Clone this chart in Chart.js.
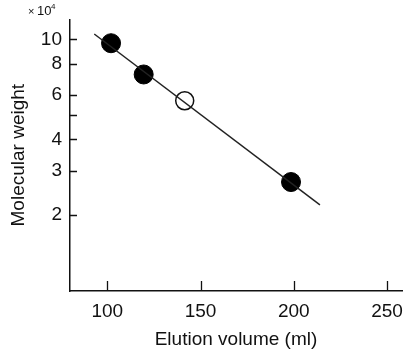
<!DOCTYPE html>
<html>
<head>
<meta charset="utf-8">
<script src="https://cdn.jsdelivr.net/npm/chart.js@4"></script>
<style>
  html, body { margin: 0; padding: 0; background: #fff; }
  #wrap { width: 413px; height: 358px; }
</style>
</head>
<body>
<div id="wrap"><canvas id="chart"></canvas></div>
<script>
// values (molecular weight in units of 10^4)
const filledX = [102, 119.5, 198.5];
const filledY = [9.65, 7.25, 2.71];
const openX = [141.5];
const openY = [5.7];
const fitX = [93, 214];
const fitY = [10.5, 2.2];
const xTicks = [100, 150, 200, 250];
const yTicks = [2, 3, 4, 5, 6, 8, 10];
const yLabels = ['2', '3', '4', '', '6', '8', '10'];

const FONT = "'Liberation Sans', Arial, Helvetica, sans-serif";
const toPts = (xs, ys) => xs.map((x, i) => ({ x: x, y: ys[i] }));

// small inward ticks + the "x 10^4" unit label
const axisDecor = {
  id: 'axisDecor',
  afterDraw(chart) {
    const { ctx, chartArea, scales } = chart;
    ctx.save();
    ctx.strokeStyle = '#111';
    ctx.lineWidth = 1.3;
    ctx.beginPath();
    xTicks.forEach(v => {
      const px = Math.round(scales.x.getPixelForValue(v)) + 0.5;
      ctx.moveTo(px, chartArea.bottom);
      ctx.lineTo(px, chartArea.bottom - 10);
    });
    yTicks.forEach(v => {
      const py = Math.round(scales.y.getPixelForValue(v)) + 0.5;
      ctx.moveTo(chartArea.left, py);
      ctx.lineTo(chartArea.left + 7, py);
    });
    ctx.stroke();

    ctx.fillStyle = '#111';
    ctx.textBaseline = 'alphabetic';
    ctx.font = '11px ' + FONT;
    ctx.fillText('\u00d7', 28, 15);
    ctx.font = '13px ' + FONT;
    ctx.fillText('10', 37, 15);
    ctx.font = '8px ' + FONT;
    ctx.fillText('4', 51, 9);
    ctx.restore();
  }
};

new Chart(document.getElementById('chart'), {
  type: 'scatter',
  data: {
    datasets: [
      {
        label: 'fit',
        data: toPts(fitX, fitY),
        showLine: true,
        borderColor: '#222',
        borderWidth: 1.5,
        pointRadius: 0,
        fill: false
      },
      {
        label: 'filled',
        data: toPts(filledX, filledY),
        pointRadius: 9.5,
        pointBackgroundColor: '#000',
        pointBorderColor: '#000',
        pointBorderWidth: 1
      },
      {
        label: 'open',
        data: toPts(openX, openY),
        pointRadius: 9,
        pointBackgroundColor: '#fff',
        pointBorderColor: '#111',
        pointBorderWidth: 1.5
      }
    ]
  },
  options: {
    responsive: true,
    maintainAspectRatio: false,
    animation: false,
    layout: { padding: { top: 15, right: 11, left: 0, bottom: 0 } },
    plugins: {
      legend: { display: false },
      tooltip: { enabled: false }
    },
    scales: {
      x: {
        type: 'linear',
        min: 80,
        max: 258,
        afterBuildTicks: s => { s.ticks = xTicks.map(v => ({ value: v })); },
        afterFit: s => { s.height = 67; },
        grid: { display: false, drawTicks: false },
        border: { display: true, color: '#111', width: 1.5 },
        ticks: { color: '#111', padding: 9, font: { family: FONT, size: 19 }, maxRotation: 0 },
        title: {
          display: true,
          text: 'Elution volume (ml)',
          color: '#111',
          font: { family: FONT, size: 19 },
          padding: { top: 0, bottom: 7 }
        }
      },
      y: {
        type: 'logarithmic',
        min: 1,
        max: 12,
        afterBuildTicks: s => { s.ticks = yTicks.map(v => ({ value: v })); },
        afterFit: s => { s.width = 70; },
        grid: { display: false, drawTicks: false },
        border: { display: true, color: '#111', width: 1.5 },
        ticks: {
          color: '#111',
          padding: 8,
          font: { family: FONT, size: 19 },
          callback: (v, i) => yLabels[i]
        },
        title: {
          display: true,
          text: 'Molecular weight',
          color: '#111',
          font: { family: FONT, size: 19 },
          padding: { top: 7, bottom: 0 }
        }
      }
    }
  },
  plugins: [axisDecor]
});
</script>
</body>
</html>
